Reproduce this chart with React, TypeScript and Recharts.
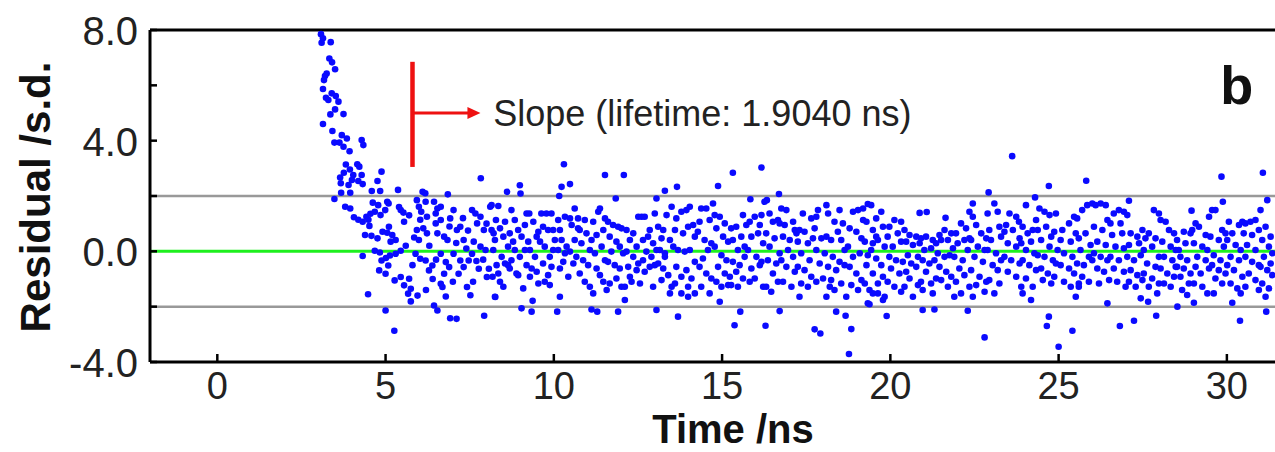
import React from "react";
import {
  ScatterChart,
  Scatter,
  XAxis,
  YAxis,
  ReferenceLine,
  ReferenceDot,
} from "recharts";

const xTicks = [0, 5, 10, 15, 20, 25, 30];
const yTicks = [-4, -2, 0, 2, 4, 6, 8];

// residuals, [time ns, residual s.d.]
const decayTail = [
  [3.08, 7.85], [3.14, 7.7], [3.1, 7.54], [3.37, 7.56], [3.33, 6.97], [3.41, 6.83], [3.5, 6.58],
  [3.25, 6.43], [3.2, 6.34], [3.17, 6.19], [3.14, 5.87], [3.4, 5.71], [3.23, 5.55], [3.3, 5.47],
  [3.52, 5.61], [3.6, 5.41], [3.5, 5.13], [3.75, 4.96], [3.36, 4.95], [3.14, 4.6], [3.42, 4.35],
  [3.7, 4.2], [3.85, 4.08], [3.48, 3.93], [3.63, 3.93], [3.75, 3.78], [3.93, 3.62], [4.29, 4.02],
  [4.34, 3.84], [3.82, 3.14], [3.94, 2.96], [4.16, 3.15], [4.22, 3.06], [3.76, 2.84], [4.04, 2.76],
  [4.29, 2.76], [3.65, 2.67], [4.0, 2.58], [4.19, 2.54], [4.32, 2.43], [3.67, 2.46], [3.9, 2.4],
  [4.88, 2.88], [4.76, 2.54], [4.59, 2.18], [4.84, 2.18], [3.68, 2.12], [3.95, 2.12], [3.48, 1.89],
  [3.8, 1.61], [3.95, 1.55], [4.06, 1.23], [4.19, 1.14], [4.32, 1.07], [4.43, 1.25], [4.62, 1.76],
  [4.68, 1.43], [4.55, 1.36], [4.49, 1.14], [4.52, 0.92], [4.39, 0.59], [4.58, 0.56], [4.78, 1.67],
  [4.85, 1.31], [4.91, 0.71], [4.76, 0.47], [4.32, -0.17], [4.68, 0.02], [4.83, -0.04], [4.88, -0.33],
  [4.81, -0.69], [4.48, -1.55], [4.99, 1.49],
];

const earlyResiduals = [
  [5.37, 2.22], [6.1, 2.15], [6.18, 2.1], [6.85, 2.06], [7.83, 2.64], [5.05, 1.79], [5.09, 1.73],
  [5.45, 1.49], [5.53, 1.4], [5.55, 1.07], [5.1, 0.89], [5.05, 0.67], [5.2, 0.59], [5.3, 0.41],
  [5.15, 0.35], [5.01, -0.24], [5.13, -0.15], [5.08, -0.51], [5.3, -0.09], [5.45, 0.02], [5.0, -0.81],
  [5.27, -1.05], [5.45, -0.93], [5.55, -1.23], [5.7, -0.99], [5.75, -1.35], [5.67, -1.53], [5.75, -1.81],
  [5.0, -2.14], [5.26, -2.87], [5.93, 1.85], [5.99, 1.61], [6.06, 1.43], [6.19, 1.79], [6.03, 1.14],
  [6.23, 1.25], [5.93, 0.77], [6.12, 0.83], [6.23, 0.65], [5.99, 0.41], [5.89, -0.09], [6.03, -0.27],
  [6.19, -0.33], [6.29, -0.69], [6.39, -0.51], [6.44, 1.79], [6.54, 1.55], [6.49, 1.37], [6.64, 1.61],
  [6.49, 1.01], [6.64, 1.13], [6.54, 0.65], [6.74, 0.53], [6.84, 0.41], [6.64, -0.09], [6.79, -0.39],
  [6.89, -0.57], [6.74, -0.81], [6.64, -1.17], [6.69, -1.29], [6.79, -1.63], [6.44, -1.96], [6.54, -2.14],
  [6.92, -2.42], [7.11, -2.44], [7.02, 1.49], [6.92, 1.19], [7.12, 0.77], [7.22, 0.89], [7.32, 0.41],
  [7.02, -0.09], [7.22, -0.33], [7.32, -0.57], [7.17, -0.81], [7.47, -0.33], [7.42, -1.29], [7.52, -1.59],
  [7.57, 1.49], [7.67, 1.37], [7.82, 1.25], [7.72, 1.01], [7.92, 0.77], [7.62, 0.35], [7.82, 0.17],
  [7.97, 0.05], [7.57, -0.09], [7.77, -0.63], [8.07, -0.63], [7.93, -2.33], [8.01, -0.93], [8.11, 1.61],
  [8.21, 0.65], [8.26, -1.65], [5.4, 1.6], [5.7, 1.3], [5.85, 0.5], [5.6, 0.2], [5.8, -0.5], [6.3, 0.2],
  [6.5, -0.3], [6.4, -1.0], [7.0, -1.1], [7.3, 1.2], [7.4, 0.1], [7.6, -1.1], [7.9, -0.3], [8.0, 1.0],
  [6.9, 0.9], [7.1, 0.3], [6.2, -1.4], [5.95, -1.6], [7.45, 0.75], [7.7, -0.35],
];

const residuals8to14 = [
  [8.61, 2.15], [8.99, 2.39], [9.01, 2.09], [10.3, 3.15], [10.23, 2.33], [10.48, 2.43], [10.16, 2.0],
  [11.52, 2.76], [12.08, 2.76], [11.84, 1.91], [13.3, 2.19], [13.66, 2.33], [13.05, 1.91],
  [8.25, -1.64], [9.04, -2.06], [9.34, -2.18], [9.37, -1.79], [10.1, -2.18], [10.18, -1.64], [11.12, -2.1],
  [11.29, -2.18], [11.91, -2.18], [12.11, -1.76], [13.05, -2.12], [13.69, -2.36], [13.79, -1.52], [13.99, -1.64],
  [8.15, 1.67], [8.35, 1.64], [8.28, 1.13], [8.15, 0.77], [8.4, 0.83], [8.25, 0.41], [8.55, 1.07], [8.5, 0.53],
  [8.2, 0.05], [8.45, -0.2], [8.3, -0.5], [8.55, -0.44], [8.18, -0.92], [8.4, -1.1], [8.5, -1.28], [8.35, -0.8],
  [8.74, 1.49], [8.84, 1.13], [8.69, 0.65], [8.94, 0.77], [8.64, 0.17], [8.79, 0.35], [9.04, 0.53], [8.99, -0.2],
  [8.74, -0.32], [8.89, -0.8], [8.69, -0.62], [8.94, -0.86], [9.09, -1.34], [8.84, 0.05], [8.64, -0.5],
  [9.19, 1.37], [9.27, 1.37], [9.14, 0.95], [9.39, 1.07], [9.49, 0.53], [9.24, 0.35], [9.54, 0.71], [9.29, 0.05],
  [9.44, -0.2], [9.19, -0.5], [9.34, -0.62], [9.49, -0.74], [9.54, -1.16], [9.29, -0.92], [9.14, 0.05],
  [9.63, 1.37], [9.78, 1.37], [9.93, 1.37], [9.68, 0.89], [9.83, 0.77], [9.98, 0.77], [9.59, 0.35], [9.73, 0.17],
  [10.03, 0.41], [9.88, -0.2], [9.68, -0.44], [9.93, -0.56], [9.83, -0.86], [9.73, -1.1], [9.88, -1.22], [9.98, 0.05],
  [10.13, 1.13], [10.33, 1.25], [10.48, 1.19], [10.18, 0.77], [10.53, 0.95], [10.23, 0.41], [10.38, 0.17],
  [10.13, 0.05], [10.48, -0.01], [10.28, -0.38], [10.58, -0.44], [10.18, -0.62], [10.43, -0.92], [10.33, -0.07],
  [10.62, 1.55], [10.72, 1.19], [10.92, 1.13], [10.77, 0.77], [10.97, 0.65], [10.62, 0.41], [10.82, 0.29],
  [11.07, 0.05], [10.67, -0.2], [10.87, -0.32], [11.02, -0.5], [10.77, -0.8], [10.92, -1.1], [11.07, -1.28],
  [10.72, 0.83], [11.17, 1.07], [11.32, 1.43], [11.37, 1.55], [11.52, 1.19], [11.27, 0.59], [11.47, 0.77],
  [11.12, 0.41], [11.42, 0.17], [11.22, -0.07], [11.52, -0.32], [11.27, -0.62], [11.37, -0.86], [11.47, -1.1],
  [11.57, -1.4], [11.17, -1.52], [11.61, 1.07], [11.76, 0.95], [11.91, 0.89], [12.01, 0.83], [11.66, 0.53],
  [11.86, 0.35], [11.96, 0.17], [11.71, -0.01], [12.06, -0.07], [11.61, -0.38], [11.81, -0.5], [11.96, -0.62],
  [11.66, -1.16], [11.86, -0.98], [12.01, -1.28], [12.16, 0.77], [12.36, 0.65], [12.51, 1.25], [12.26, 0.41],
  [12.46, 0.17], [12.16, -0.01], [12.36, -0.2], [12.51, -0.44], [12.21, -0.56], [12.26, -0.92], [12.46, -0.68],
  [12.31, -1.1], [12.56, -1.16], [12.11, -1.28], [12.61, 1.25], [12.7, 1.25], [12.85, 0.77], [13.0, 1.37],
  [12.65, 0.41], [12.8, 0.53], [12.95, 0.29], [12.75, -0.01], [12.9, -0.2], [13.05, 0.05], [12.65, -0.32],
  [12.85, -0.56], [13.0, -0.5], [12.7, -0.74], [12.95, -1.28], [13.1, 0.89], [13.25, 0.77], [13.35, 1.31],
  [13.5, 1.61], [13.2, 0.47], [13.45, 0.41], [13.15, 0.05], [13.3, -0.07], [13.55, 0.17], [13.1, -0.44],
  [13.25, -0.62], [13.4, -0.86], [13.5, -1.28], [13.2, -1.04], [13.45, -1.52], [13.3, -0.2], [13.64, 1.19],
  [13.79, 1.43], [13.94, 1.49], [13.6, 0.77], [13.84, 0.65], [13.99, 0.89], [13.69, 0.05], [13.89, -0.01],
  [13.64, -0.56], [13.79, -0.92], [13.94, -0.68], [13.6, -1.16], [13.99, -1.28],
];

const residuals14to20 = [
  [15.32, 2.84], [16.17, 3.03], [14.88, 2.36], [15.84, 1.88], [16.69, 2.07], [16.33, 1.85], [19.33, 1.71],
  [14.93, -1.82], [15.54, -2.18], [15.37, -2.67], [16.29, -2.69], [16.71, -2.16], [17.75, -2.82], [17.92, -2.97],
  [18.39, -2.18], [18.67, -2.33], [18.77, -3.71], [18.84, -2.81], [19.33, -1.88], [19.63, -1.52],
  [14.04, 1.61], [14.14, 0.95], [14.19, 0.53], [14.04, 0.05], [14.19, -0.38], [14.09, -0.98], [14.19, -1.52],
  [14.38, 1.55], [14.53, 1.55], [14.33, 1.07], [14.63, 1.13], [14.28, 0.71], [14.48, 0.41], [14.68, 0.29],
  [14.43, -0.26], [14.58, 0.05], [14.33, -0.56], [14.53, -0.8], [14.68, -0.98], [14.38, -1.28], [14.63, -1.52],
  [14.73, 1.73], [14.78, 1.31], [14.93, 1.25], [14.83, 0.83], [15.08, 1.01], [15.03, 0.53], [15.18, 0.35],
  [14.78, 0.17], [14.98, -0.14], [15.13, -0.32], [14.88, -0.56], [15.08, -0.8], [15.23, -0.92], [14.83, -1.1],
  [14.98, -1.28], [15.18, -1.22], [15.27, 0.83], [15.42, 0.89], [15.62, 1.31], [15.32, 0.41], [15.57, 0.53],
  [15.47, 0.05], [15.67, -0.2], [15.32, -0.38], [15.52, -0.5], [15.42, -0.74], [15.62, -0.98], [15.27, -1.22],
  [15.47, -1.28], [15.72, 0.95], [15.67, 0.17], [15.82, 1.07], [15.97, 1.25], [16.12, 0.95], [15.87, 0.53],
  [16.07, 0.65], [16.22, 0.29], [15.77, 0.05], [16.02, -0.2], [16.17, -0.38], [15.87, -0.62], [16.12, -0.5],
  [15.97, -0.98], [16.22, -1.28], [15.82, -1.1], [16.17, 1.31], [16.26, 1.79], [16.41, 1.37], [16.51, 1.07],
  [16.66, 1.13], [16.31, 0.65], [16.56, 0.47], [16.41, 0.17], [16.71, -0.07], [16.36, -0.32], [16.61, -0.44],
  [16.51, -0.8], [16.66, -1.1], [16.31, -1.28], [16.46, -1.46], [16.71, 1.01], [16.76, 1.55], [16.91, 1.49],
  [16.86, 0.95], [17.11, 1.07], [17.16, 0.77], [16.81, 0.53], [17.01, 0.41], [16.96, 0.05], [16.76, -0.32],
  [17.11, -0.2], [16.91, -0.56], [17.16, -0.74], [16.81, -1.1], [17.06, -1.28], [17.21, 0.65], [17.3, 0.77],
  [17.45, 0.71], [17.4, 1.37], [17.65, 1.19], [17.25, 0.35], [17.55, 0.29], [17.7, 0.47], [17.35, -0.07],
  [17.6, -0.32], [17.25, -0.56], [17.45, -0.68], [17.65, -0.92], [17.35, -1.16], [17.55, -1.28], [17.3, -1.64],
  [17.8, 1.25], [17.85, 1.49], [18.1, 1.67], [18.15, 1.37], [17.75, 0.83], [17.95, 0.47], [18.1, 0.53],
  [17.8, 0.05], [18.05, -0.07], [17.9, -0.44], [18.15, -0.56], [18.0, -0.98], [17.8, -1.1], [18.2, -1.28],
  [18.1, -1.64], [18.34, 1.07], [18.59, 1.01], [18.44, 0.71], [18.24, 0.41], [18.54, 0.41], [18.64, 0.05],
  [18.29, -0.2], [18.49, -0.38], [18.39, -0.68], [18.64, -0.5], [18.24, -1.04], [18.54, -1.16], [18.34, -1.4],
  [18.69, -1.64], [18.49, 1.49], [18.89, 1.43], [19.04, 1.49], [19.19, 1.55], [18.79, 0.83], [18.99, 0.71],
  [19.14, 0.47], [18.74, 0.17], [18.89, -0.2], [19.09, -0.07], [18.79, -0.56], [18.99, -0.8], [19.14, -1.04],
  [18.84, -1.22], [19.04, -1.4], [19.19, 1.13], [19.29, 1.07], [19.58, 0.53], [19.24, 0.35], [19.48, 0.29],
  [19.33, -0.14], [19.29, -0.5], [19.24, -1.16], [19.38, -1.4],
];

const residuals20to25 = [
  [23.62, 3.44], [22.92, 2.13], [24.71, 2.36], [24.3, 1.95], [24.03, 1.67], [22.45, 1.73], [20.87, 1.39],
  [21.08, 1.42], [21.64, 1.21], [19.89, -2.34], [20.96, -2.12], [21.31, -2.1], [22.3, -2.15], [22.8, -3.11],
  [24.71, -2.36], [24.65, -2.7], [25.0, -3.45], [19.38, -1.91], [19.78, -1.76],
  [19.43, 1.67], [19.58, 1.19], [19.73, 1.43], [19.48, 0.77], [19.78, 0.89], [19.63, 0.41], [19.43, 0.05],
  [19.83, 0.17], [19.58, -0.26], [19.73, -0.5], [19.48, -0.8], [19.78, -0.92], [19.63, -1.16], [19.48, -1.52],
  [19.83, -1.64], [19.97, 0.89], [20.12, 1.13], [20.32, 1.07], [19.92, 0.53], [20.22, 0.65], [20.07, 0.17],
  [20.32, 0.35], [19.97, -0.2], [20.17, -0.32], [20.37, -0.38], [20.02, -0.62], [20.27, -0.8], [19.92, -1.1],
  [20.12, -1.28], [20.32, -1.46], [20.42, 0.77], [20.57, 0.59], [20.77, 0.53], [20.47, 0.35], [20.67, 0.23],
  [20.87, 0.29], [20.52, -0.14], [20.82, -0.2], [20.62, -0.44], [20.47, -0.74], [20.77, -0.56], [20.57, -0.98],
  [20.82, -1.22], [20.67, -1.64], [20.42, -1.28], [20.91, 0.47], [21.06, 0.53], [21.26, 0.41], [21.01, 0.05],
  [21.21, 0.11], [21.36, 0.29], [20.96, -0.32], [21.16, -0.44], [21.31, -0.32], [21.06, -0.74], [20.91, -1.1],
  [21.21, -1.16], [21.36, -0.98], [20.96, -1.4], [21.26, -1.52], [21.46, 0.59], [21.61, 0.77], [21.81, 0.65],
  [21.51, 0.41], [21.71, 0.41], [21.86, 0.11], [21.41, -0.07], [21.61, -0.2], [21.76, -0.14], [21.46, -0.56],
  [21.66, -0.74], [21.81, -0.92], [21.51, -1.04], [21.71, -1.28], [21.9, -1.64], [21.95, 0.65], [22.1, 1.01],
  [22.25, 0.83], [22.35, 1.43], [22.0, 0.29], [22.2, 0.41], [22.35, 0.47], [21.9, -0.2], [22.15, -0.32],
  [22.3, 0.05], [22.05, -0.62], [22.2, -0.86], [21.95, -1.1], [22.35, -1.28], [22.1, -1.52], [22.45, 1.25],
  [22.55, 0.95], [22.7, 0.65], [22.85, 0.47], [22.4, 0.41], [22.6, 0.17], [22.8, 0.05], [22.5, -0.2],
  [22.75, -0.38], [22.4, -0.68], [22.65, -0.92], [22.85, -1.1], [22.55, -1.22], [22.8, -1.46], [22.45, -1.64],
  [22.89, 1.37], [23.09, 1.73], [23.19, 1.43], [22.94, 0.77], [23.24, 0.89], [22.99, 0.41], [23.29, 0.53],
  [22.89, 0.05], [23.14, -0.07], [23.29, -0.32], [23.04, -0.5], [23.19, -0.68], [22.94, -1.04], [23.24, -1.16],
  [23.09, -1.52], [23.44, 0.95], [23.54, 1.37], [23.74, 1.25], [23.82, 1.07], [23.39, 0.71], [23.64, 0.77],
  [23.84, 0.47], [23.49, 0.29], [23.74, 0.17], [23.39, -0.2], [23.59, -0.32], [23.84, -0.44], [23.49, -0.74],
  [23.74, -0.92], [23.89, -1.28], [23.93, 0.89], [24.08, 0.65], [24.23, 0.77], [24.33, 1.13], [23.89, 0.29],
  [24.18, 0.35], [24.03, 0.05], [24.28, -0.07], [23.93, -0.32], [24.13, -0.5], [24.33, -0.68], [24.03, -0.98],
  [24.23, -1.28], [23.93, -1.52], [24.18, -1.76], [24.43, 1.55], [24.58, 1.43], [24.73, 1.31], [24.38, 0.77],
  [24.63, 0.89], [24.78, 0.53], [24.48, 0.41], [24.73, 0.17], [24.38, -0.14], [24.58, -0.2], [24.83, -0.32],
  [24.48, -0.62], [24.68, -0.8], [24.78, -1.16], [24.53, -1.04], [24.92, 1.37], [24.87, 0.71], [24.97, 0.05],
  [24.92, -0.44], [24.87, -0.92],
];

const residuals25to31 = [
  [25.82, 2.55], [29.84, 2.7], [31.07, 2.84], [31.2, 1.85], [27.09, 1.83], [29.88, 1.79], [28.95, 1.47],
  [25.41, -2.87], [26.82, -2.7], [27.24, -2.51], [27.9, -2.33], [30.39, -2.51], [31.17, -2.18], [26.45, -1.88],
  [27.66, -1.82], [29.02, -1.86], [30.16, -1.86], [28.53, -2.0],
  [25.11, 0.77], [25.31, 1.01], [25.46, 1.25], [25.06, 0.41], [25.36, 0.35], [25.51, 0.65], [25.16, -0.07],
  [25.41, -0.2], [25.06, -0.5], [25.31, -0.62], [25.46, -0.8], [25.16, -1.1], [25.36, -1.28], [25.51, -1.64],
  [25.6, -1.16], [25.55, 1.19], [25.7, 1.49], [25.85, 1.67], [26.0, 1.73], [25.6, 0.47], [25.8, 0.65],
  [25.95, 0.23], [25.65, 0.05], [25.9, -0.2], [25.55, -0.44], [25.75, -0.5], [26.0, -0.32], [25.7, -0.92],
  [25.9, -1.1], [25.6, -1.28], [26.1, 1.67], [26.25, 1.73], [26.4, 1.67], [26.05, 0.89], [26.3, 0.77],
  [26.45, 1.13], [26.15, 0.35], [26.4, 0.23], [26.05, -0.07], [26.25, -0.2], [26.45, -0.32], [26.15, -0.62],
  [26.35, -0.74], [26.5, -1.04], [26.2, -1.16], [26.64, 1.37], [26.79, 1.49], [26.94, 1.43], [26.54, 1.01],
  [26.84, 1.01], [26.59, 0.59], [26.89, 0.65], [26.69, 0.17], [26.94, 0.11], [26.54, -0.2], [26.79, -0.32],
  [26.64, -0.62], [26.94, -0.74], [26.74, -1.1], [26.99, -1.28], [27.04, 1.31], [27.14, 0.65], [27.34, 0.53],
  [27.49, 0.77], [27.09, 0.23], [27.39, 0.29], [27.04, -0.2], [27.24, -0.32], [27.44, -0.14], [27.14, -0.68],
  [27.34, -0.86], [27.49, -1.04], [27.09, -1.1], [27.29, -1.28], [27.44, -1.7], [27.58, 0.47], [27.83, 1.49],
  [27.98, 1.37], [27.68, 0.65], [27.88, 0.47], [27.53, 0.05], [27.78, 0.17], [27.98, -0.2], [27.63, -0.44],
  [27.88, -0.56], [27.53, -0.8], [27.78, -0.98], [27.98, -1.16], [27.68, -1.28], [27.93, -1.52], [28.03, 1.13],
  [28.18, 1.07], [28.28, 0.77], [28.43, 0.65], [28.08, 0.35], [28.33, 0.17], [28.48, 0.05], [28.13, -0.2],
  [28.38, -0.32], [28.03, -0.62], [28.23, -0.8], [28.43, -0.92], [28.13, -1.16], [28.33, -1.28], [28.48, -0.56],
  [28.57, 0.05], [28.72, 0.71], [28.92, 0.65], [28.52, 0.41], [28.77, 0.29], [28.97, 0.77], [28.62, -0.2],
  [28.82, -0.32], [28.52, -0.56], [28.72, -0.62], [28.92, -0.8], [28.62, -0.92], [28.87, -1.16], [28.67, -1.4],
  [28.82, -1.58], [29.07, 1.01], [29.17, 0.89], [29.37, 0.59], [29.47, 1.25], [29.02, 0.29], [29.27, 0.17],
  [29.42, 0.05], [29.12, -0.2], [29.37, -0.32], [29.07, -0.56], [29.22, -0.8], [29.47, -0.62], [29.02, -1.16],
  [29.27, -1.28], [29.42, -1.52], [29.56, 1.49], [29.66, 1.49], [29.86, 0.77], [29.96, 0.65], [29.51, 0.53],
  [29.76, 0.41], [29.91, 0.17], [29.61, -0.14], [29.81, -0.32], [29.56, -0.5], [29.76, -0.68], [29.96, -0.8],
  [29.66, -0.98], [29.86, -1.16], [29.61, -1.52], [30.06, 1.07], [30.16, 0.65], [30.36, 0.95], [30.46, 1.07],
  [30.01, 0.41], [30.26, 0.23], [30.41, 0.05], [30.11, -0.2], [30.36, -0.32], [30.01, -0.5], [30.21, -0.68],
  [30.46, -0.92], [30.11, -1.16], [30.31, -1.34], [30.41, -1.52], [30.55, 1.01], [30.7, 1.07], [30.85, 1.13],
  [30.5, 0.65], [30.75, 0.59], [30.95, 0.77], [30.6, 0.23], [30.85, 0.05], [30.55, -0.2], [30.75, -0.38],
  [30.95, -0.5], [30.65, -0.8], [30.85, -1.04], [30.55, -1.28], [30.95, -1.4], [31.0, 1.49], [31.15, 0.89],
  [31.3, 0.53], [31.05, 0.41], [31.25, 0.17], [31.1, -0.2], [31.35, -0.07], [31.0, -0.56], [31.2, -0.68],
  [31.35, -0.86], [31.05, -1.16], [31.25, -1.34], [31.15, -1.64], [31.3, -0.44],
];

const points = [
  ...decayTail,
  ...earlyResiduals,
  ...residuals8to14,
  ...residuals14to20,
  ...residuals20to25,
  ...residuals25to31,
].map(([t, r]) => ({ t, r }));

const FONT = "'Liberation Sans', Arial, sans-serif";

const Dot = (props: any) => (
  <circle cx={props.cx} cy={props.cy} r={3.3} fill="#0a0aff" />
);

const BottomTick = ({ x, y, payload }: any) => (
  <g>
    <line x1={x} x2={x} y1={y} y2={y - 8} stroke="#000" strokeWidth={2.5} />
    <text x={x} y={y + 24} textAnchor="middle" dominantBaseline="central" fontSize={38} fontFamily={FONT} fill="#222">
      {payload.value}
    </text>
  </g>
);

const TopTick = ({ x, y }: any) => (
  <line x1={x} x2={x} y1={y} y2={y + 8} stroke="#000" strokeWidth={2.5} />
);

const LeftTick = ({ x, y, payload }: any) => {
  const major = payload.value % 4 === 0;
  return (
    <g>
      <line x1={x} x2={x + 7} y1={y} y2={y} stroke="#000" strokeWidth={2.5} />
      {major && (
        <text x={x - 12} y={y + 1} textAnchor="end" dominantBaseline="central" fontSize={40} fontFamily={FONT} fill="#222">
          {payload.value.toFixed(1)}
        </text>
      )}
    </g>
  );
};

const ArrowHead = ({ cx, cy }: any) => (
  <polygon points={`${cx},${cy} ${cx - 13},${cy - 6} ${cx - 13},${cy + 6}`} fill="#ee1111" />
);

const SlopeText = ({ cx, cy }: any) => (
  <text x={cx} y={cy} dominantBaseline="central" fontSize={36} fontFamily={FONT} fill="#222">
    Slope (lifetime: 1.9040 ns)
  </text>
);

const PanelLetter = ({ cx, cy }: any) => (
  <text x={cx} y={cy} dominantBaseline="central" fontSize={54} fontWeight="bold" fontFamily={FONT} fill="#111">
    b
  </text>
);

export default function App() {
  return (
    <div style={{ position: "absolute", left: 0, top: 0, background: "#fff" }}>
      <ScatterChart width={1275} height={452} margin={{ top: 0, right: 0, bottom: 0, left: 0 }}>
        <XAxis
          xAxisId="b"
          dataKey="t"
          type="number"
          domain={[-2, 31.43]}
          ticks={xTicks}
          allowDataOverflow
          height={90}
          axisLine={{ stroke: "#000", strokeWidth: 3 }}
          tickLine={false}
          tickSize={0}
          tickMargin={0}
          tick={BottomTick}
          label={() => (
            <text x={733} y={443} textAnchor="middle" fontSize={40} fontWeight="bold" fontFamily={FONT} fill="#111">
              Time /ns
            </text>
          )}
        />
        <XAxis
          xAxisId="top"
          orientation="top"
          type="number"
          domain={[-2, 31.43]}
          ticks={xTicks}
          allowDataOverflow
          height={30}
          axisLine={{ stroke: "#000", strokeWidth: 3 }}
          tickLine={false}
          tickSize={0}
          tickMargin={0}
          tick={TopTick}
        />
        <YAxis
          dataKey="r"
          type="number"
          domain={[-4, 8]}
          ticks={yTicks}
          allowDataOverflow
          width={150}
          axisLine={{ stroke: "#000", strokeWidth: 3 }}
          tickLine={false}
          tickSize={0}
          tickMargin={0}
          tick={LeftTick}
          label={() => (
            <text transform="translate(50,197) rotate(-90)" textAnchor="middle" fontSize={42} fontWeight="bold" fontFamily={FONT} fill="#111">
              Residual /s.d.
            </text>
          )}
        />
        <ReferenceLine xAxisId="b" y={2} stroke="#999" strokeWidth={2.5} />
        <ReferenceLine xAxisId="b" y={-2} stroke="#999" strokeWidth={2.5} />
        <Scatter xAxisId="b" data={points} shape={Dot} isAnimationActive={false} />
        <ReferenceLine xAxisId="b" y={0} stroke="#1ef01e" strokeWidth={3} />
        <ReferenceLine xAxisId="b" segment={[{ x: 5.8, y: 3.05 }, { x: 5.8, y: 6.85 }]} stroke="#ee1111" strokeWidth={4.5} />
        <ReferenceLine xAxisId="b" segment={[{ x: 5.8, y: 5.0 }, { x: 7.5, y: 5.0 }]} stroke="#ee1111" strokeWidth={3} />
        <ReferenceDot xAxisId="b" x={7.82} y={5.0} shape={ArrowHead} />
        <ReferenceDot xAxisId="b" x={8.2} y={5.0} shape={SlopeText} />
        <ReferenceDot xAxisId="b" x={29.8} y={6.0} shape={PanelLetter} />
      </ScatterChart>
    </div>
  );
}
